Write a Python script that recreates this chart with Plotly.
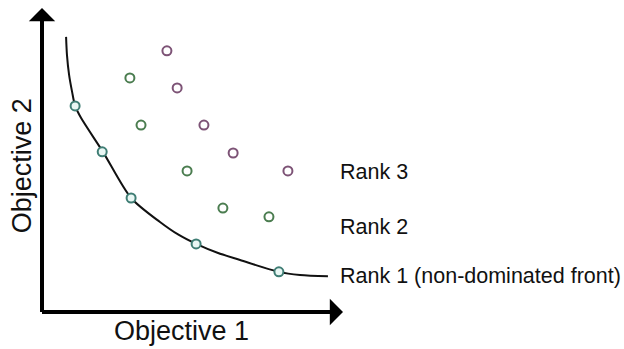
import plotly.graph_objects as go

# Data (abstract objective units)
front_x = [0.80, 0.83, 0.90, 1.00, 1.10, 1.30, 2.03, 2.96, 3.92, 4.52, 5.12, 5.85, 6.58, 7.87, 8.57, 9.50]
front_y = [9.05, 8.45, 7.80, 7.24, 6.78, 6.38, 5.26, 3.75, 2.96, 2.55, 2.24, 1.94, 1.71, 1.32, 1.22, 1.18]

rank1_x = [1.10, 2.00, 2.96, 5.12, 7.87]
rank1_y = [6.78, 5.27, 3.75, 2.24, 1.32]
rank2_x = [2.92, 3.29, 4.82, 6.01, 7.54]
rank2_y = [7.70, 6.15, 4.64, 3.42, 3.13]
rank3_x = [4.15, 4.49, 5.38, 6.35, 8.17]
rank3_y = [8.59, 7.37, 6.15, 5.23, 4.64]

labels = ["Rank 3", "Rank 2", "Rank 1 (non-dominated front)"]
label_y = [4.60, 2.80, 1.20]

FONT = "Arial, Liberation Sans, sans-serif"

fig = go.Figure()
fig.add_trace(go.Scatter(x=front_x, y=front_y, mode="lines",
                         line=dict(color="#111111", width=2, shape="spline", smoothing=0.8),
                         hoverinfo="skip", showlegend=False))
for xs, ys, col, fill in [(rank1_x, rank1_y, "#3f7d74", "#e9f7f4"),
                          (rank2_x, rank2_y, "#4b7d50", "#ffffff"),
                          (rank3_x, rank3_y, "#7d5376", "#ffffff")]:
    fig.add_trace(go.Scatter(x=xs, y=ys, mode="markers",
                             marker=dict(symbol="circle", size=9, color=fill,
                                         line=dict(color=col, width=2)),
                             showlegend=False))

# axes as arrows
fig.add_annotation(x=10, y=0, ax=-0.05, ay=0, xref="x", yref="y", axref="x", ayref="y",
                   showarrow=True, arrowhead=1, arrowsize=1.1, arrowwidth=4, arrowcolor="#000000", text="")
fig.add_annotation(x=0, y=10, ax=0, ay=-0.05, xref="x", yref="y", axref="x", ayref="y",
                   showarrow=True, arrowhead=1, arrowsize=1.1, arrowwidth=4, arrowcolor="#000000", text="")

# rank labels
for t, yv in zip(labels, label_y):
    fig.add_annotation(x=9.82, y=yv, xref="x", yref="y", text=t, showarrow=False,
                       xanchor="left", yanchor="middle",
                       font=dict(family=FONT, size=21.5, color="#111111"))

# axis titles
fig.add_annotation(x=0.465, y=-0.0625, xref="paper", yref="paper", text="Objective 1", showarrow=False,
                   xanchor="center", yanchor="middle", font=dict(family=FONT, size=27, color="#111111"))
fig.add_annotation(x=-0.066, y=0.48, xref="paper", yref="paper", text="Objective 2", showarrow=False,
                   textangle=-90, xanchor="center", yanchor="middle",
                   font=dict(family=FONT, size=27, color="#111111"))

fig.update_xaxes(range=[0, 10], visible=False)
fig.update_yaxes(range=[0, 10], visible=False)
fig.update_layout(width=624, height=349, margin=dict(l=42, r=281, t=8, b=37),
                  plot_bgcolor="white", paper_bgcolor="white", showlegend=False)

fig.write_html("out.html", config={"displayModeBar": False},
               post_script="document.body.style.margin='0';")
